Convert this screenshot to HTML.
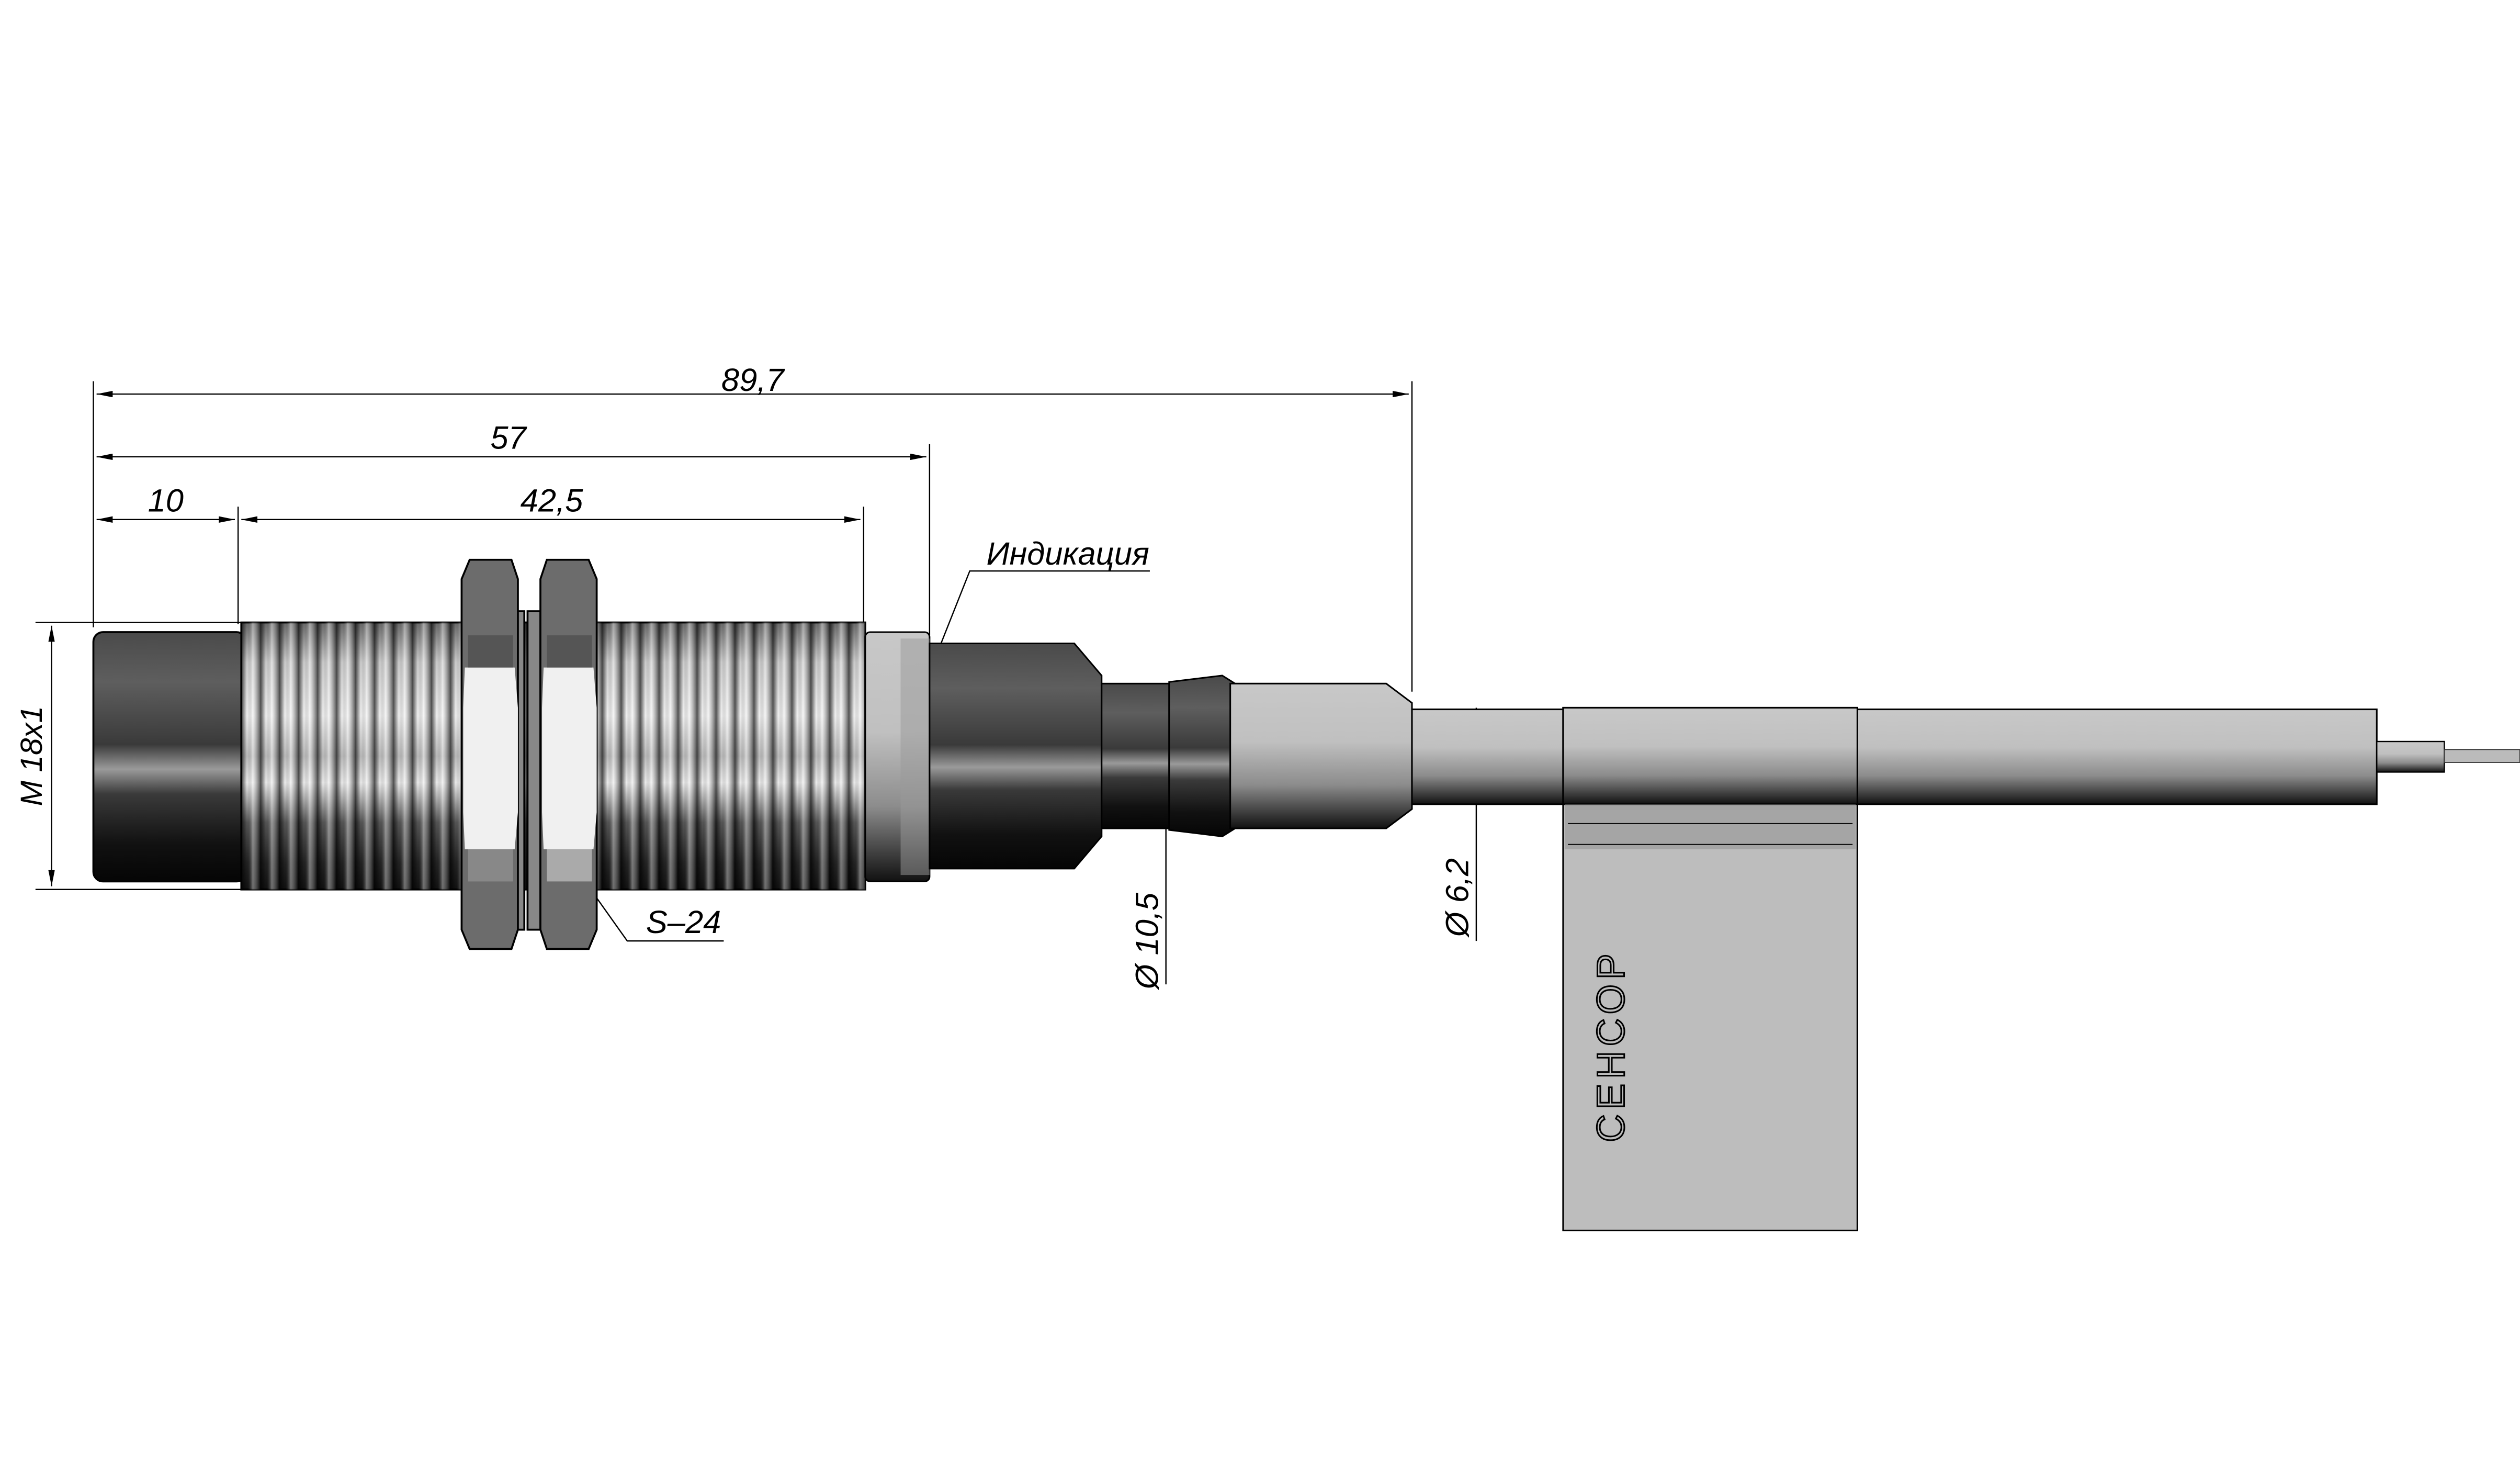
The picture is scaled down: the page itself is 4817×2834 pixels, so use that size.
<!DOCTYPE html>
<html><head><meta charset="utf-8"><style>
html,body{margin:0;padding:0;background:#fff;width:4817px;height:2834px;overflow:hidden}
svg{display:block}
text{font-family:"Liberation Sans",sans-serif;font-style:italic}
</style></head><body>
<svg width="4817" height="2834" viewBox="0 0 1567 922" xmlns="http://www.w3.org/2000/svg">
<defs>
<linearGradient id="dark" x1="0" y1="0" x2="0" y2="1">
<stop offset="0" stop-color="#4a4a4a"/><stop offset="0.2" stop-color="#5e5e5e"/><stop offset="0.45" stop-color="#3a3a3a"/><stop offset="0.55" stop-color="#9a9a9a"/><stop offset="0.65" stop-color="#3a3a3a"/><stop offset="0.85" stop-color="#111"/><stop offset="1" stop-color="#050505"/>
</linearGradient>
<linearGradient id="metal" x1="0" y1="0" x2="0" y2="1">
<stop offset="0" stop-color="#6a6a6a"/><stop offset="0.15" stop-color="#cfcfcf"/><stop offset="0.35" stop-color="#f2f2f2"/><stop offset="0.5" stop-color="#bdbdbd"/><stop offset="0.6" stop-color="#eee"/><stop offset="0.75" stop-color="#555"/><stop offset="0.9" stop-color="#222"/><stop offset="1" stop-color="#111"/>
</linearGradient>
<linearGradient id="grey" x1="0" y1="0" x2="0" y2="1">
<stop offset="0" stop-color="#c8c8c8"/><stop offset="0.4" stop-color="#c0c0c0"/><stop offset="0.7" stop-color="#8c8c8c"/><stop offset="0.9" stop-color="#3a3a3a"/><stop offset="1" stop-color="#111"/>
</linearGradient>
<linearGradient id="stripe" x1="0" y1="0" x2="1" y2="0">
<stop offset="0" stop-color="#000" stop-opacity="0.7"/><stop offset="0.3" stop-color="#000" stop-opacity="0"/><stop offset="0.6" stop-color="#fff" stop-opacity="0.4"/><stop offset="1" stop-color="#000" stop-opacity="0.6"/>
</linearGradient>
<pattern id="thr" x="150" y="0" width="11.8" height="922" patternUnits="userSpaceOnUse">
<rect width="11.8" height="922" fill="url(#stripe)"/>
</pattern>
<marker id="ar" viewBox="0 0 10 4" refX="10" refY="2" markerWidth="14" markerHeight="4" orient="auto-start-reverse" markerUnits="userSpaceOnUse"><path d="M0,0 L10,2 L0,4z" fill="#000"/></marker>
</defs>

<g stroke="#000" stroke-width="0.8" fill="none">
<line x1="58" y1="237" x2="58" y2="390"/>
<line x1="878" y1="237" x2="878" y2="430"/>
<line x1="578" y1="276" x2="578" y2="395"/>
<line x1="148" y1="315" x2="148" y2="388"/>
<line x1="537" y1="315" x2="537" y2="388"/>
<line x1="60" y1="245" x2="876" y2="245" marker-start="url(#ar)" marker-end="url(#ar)"/>
<line x1="60" y1="284" x2="576" y2="284" marker-start="url(#ar)" marker-end="url(#ar)"/>
<line x1="60" y1="323" x2="146" y2="323" marker-start="url(#ar)" marker-end="url(#ar)"/>
<line x1="150" y1="323" x2="535" y2="323" marker-start="url(#ar)" marker-end="url(#ar)"/>
<line x1="22" y1="387" x2="150" y2="387"/>
<line x1="22" y1="553" x2="150" y2="553"/>
<line x1="32" y1="389" x2="32" y2="551" marker-start="url(#ar)" marker-end="url(#ar)"/>
<line x1="725" y1="425" x2="725" y2="612"/>
<line x1="725" y1="430" x2="725" y2="510" marker-start="url(#ar)" marker-end="url(#ar)"/>
<line x1="918" y1="440" x2="918" y2="585"/>
<line x1="918" y1="442" x2="918" y2="498" marker-start="url(#ar)" marker-end="url(#ar)"/>
<polyline points="578,418 603,355 715,355"/>
<polyline points="358,540 390,585 450,585"/>
</g>
<text x="468" y="243" font-size="20" text-anchor="middle">89,7</text>
<text x="316" y="279" font-size="20" text-anchor="middle">57</text>
<text x="103" y="318" font-size="20" text-anchor="middle">10</text>
<text x="343" y="318" font-size="20" text-anchor="middle">42,5</text>
<text x="664" y="351" font-size="20" text-anchor="middle">Индикация</text>
<text x="425" y="580" font-size="20" text-anchor="middle">S–24</text>
<text transform="translate(26,470) rotate(-90)" font-size="19" text-anchor="middle">M 18x1</text>
<text transform="translate(720,585) rotate(-90)" font-size="20" text-anchor="middle">Ø 10,5</text>
<text transform="translate(913,558) rotate(-90)" font-size="20" text-anchor="middle">Ø 6,2</text>

<rect x="58" y="393" width="95" height="155" rx="6" fill="url(#dark)" stroke="#000" stroke-width="1.2"/>
<rect x="150" y="387" width="388" height="166" fill="url(#metal)" stroke="#000" stroke-width="1.2"/>
<rect x="150" y="387" width="388" height="166" fill="url(#thr)"/>
<rect x="538" y="393" width="40" height="155" rx="3" fill="url(#grey)" stroke="#000" stroke-width="1"/>
<rect x="560" y="397" width="18" height="147" fill="#9a9a9a" opacity="0.5"/>
<path d="M578,400 L668,400 L685,420 L685,520 L668,540 L578,540z" fill="url(#dark)" stroke="#000" stroke-width="1"/>
<rect x="685" y="425" width="42" height="90" fill="url(#dark)" stroke="#000" stroke-width="1"/>
<path d="M727,424 L760,420 L768,425 L768,515 L760,520 L727,516z" fill="url(#dark)" stroke="#000" stroke-width="1"/>
<path d="M765,425 L862,425 L878,437 L878,503 L862,515 L765,515z" fill="url(#grey)" stroke="#000" stroke-width="1"/>
<rect x="878" y="441" width="600" height="59" fill="url(#grey)" stroke="#000" stroke-width="1"/>
<rect x="1478" y="461" width="42" height="19" fill="url(#grey)" stroke="#000" stroke-width="0.8"/>
<rect x="1520" y="466" width="47" height="8" fill="#bbb" stroke="#333" stroke-width="0.6"/>
<rect x="972" y="440" width="183" height="325" fill="#bdbdbd" stroke="#000" stroke-width="1"/>
<rect x="972" y="440" width="183" height="60" fill="url(#grey)" stroke="#000" stroke-width="1"/>
<rect x="973" y="500" width="181" height="28" fill="#8e8e8e" opacity="0.5"/>
<line x1="975" y1="512" x2="1152" y2="512" stroke="#000" stroke-width="0.6"/>
<line x1="975" y1="525" x2="1152" y2="525" stroke="#000" stroke-width="0.6"/>
<text transform="translate(1010,650) rotate(-90)" font-size="24" text-anchor="middle" style="font-style:normal" fill="none" stroke="#000" stroke-width="1" letter-spacing="3">СЕНСОР</text>

<g stroke="#000" stroke-width="1.2">
<rect x="318" y="380" width="8" height="198" fill="#888"/>
<rect x="328" y="380" width="8" height="198" fill="#888"/>
<path d="M292,348 L318,348 L322,360 L322,578 L318,590 L292,590 L287,578 L287,360z" fill="#6c6c6c"/>
<path d="M340,348 L366,348 L371,360 L371,578 L366,590 L340,590 L336,578 L336,360z" fill="#6c6c6c"/>
</g>
<g stroke="none">
<path d="M289,415 L320,415 L322,440 L322,505 L320,528 L289,528 L288,505 L288,440z" fill="#f0f0f0"/>
<path d="M338,415 L369,415 L371,440 L371,505 L369,528 L338,528 L337,505 L337,440z" fill="#f0f0f0"/>
<rect x="291" y="395" width="28" height="20" fill="#555"/>
<rect x="340" y="395" width="28" height="20" fill="#555"/>
<rect x="291" y="528" width="28" height="20" fill="#888"/>
<rect x="340" y="528" width="28" height="20" fill="#aaa"/>
</g>
</svg>
</body></html>
